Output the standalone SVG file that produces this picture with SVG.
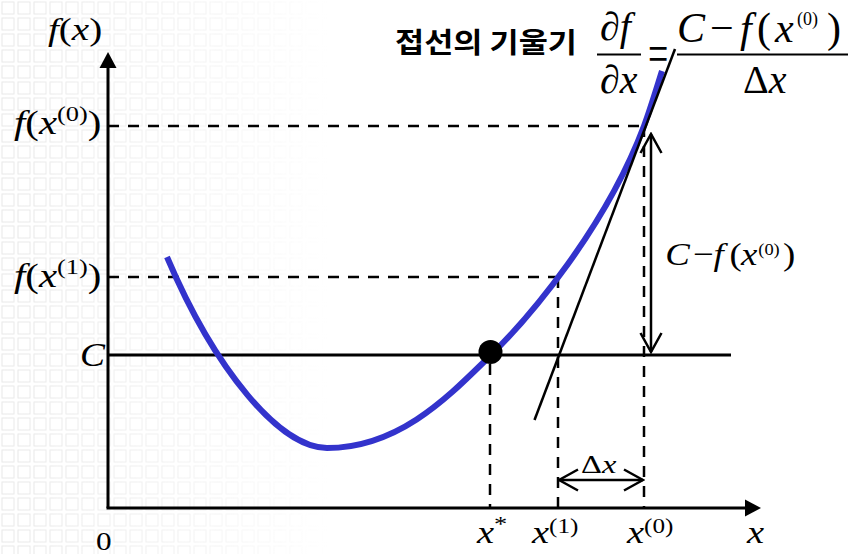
<svg xmlns="http://www.w3.org/2000/svg" width="848" height="554" viewBox="0 0 848 554">
  <style>
    .m { font-family: "Liberation Serif", "Times New Roman", serif; fill: #000; }
    .i { font-style: italic; }
    .ax { stroke: #000; stroke-width: 3; fill: none; }
    .ln { stroke: #000; stroke-width: 2.5; fill: none; }
    .dash { stroke: #000; stroke-width: 2.5; fill: none; stroke-dasharray: 11 9; }
    .bar { stroke: #000; stroke-width: 2; }
    .ko { font-family: "Noto Sans CJK KR", "Noto Sans", sans-serif; font-weight: bold; fill: #000; }
  </style>
  <defs>
    <pattern id="grid" width="16" height="16" patternUnits="userSpaceOnUse">
      <rect x="2" y="2" width="12" height="12" fill="none" stroke="#e2e2e2" stroke-width="1"/>
    </pattern>
    <linearGradient id="fade" x1="0" y1="0" x2="1" y2="0">
      <stop offset="0" stop-color="#fff" stop-opacity="1"/>
      <stop offset="0.6" stop-color="#fff" stop-opacity="0.5"/>
      <stop offset="1" stop-color="#fff" stop-opacity="0"/>
    </linearGradient>
    <mask id="gm">
      <rect x="0" y="0" width="330" height="554" fill="url(#fade)"/>
    </mask>
    <marker id="chev" viewBox="-22 -12 24 24" refX="0" refY="0" markerWidth="24" markerHeight="24" markerUnits="userSpaceOnUse" orient="auto-start-reverse">
      <path d="M -19 -10.5 L 0 0 L -19 10.5" fill="none" stroke="#000" stroke-width="2.5"/>
    </marker>
  </defs>

  <rect width="848" height="554" fill="#fff"/>
  <rect id="background-grid" x="0" y="0" width="330" height="554" fill="url(#grid)" mask="url(#gm)" opacity="0.8"/>

  <g id="axes">
    <line class="ax" x1="108" y1="508" x2="108" y2="64"/>
    <polygon points="108,52 99.5,68 116.5,68" fill="#000"/>
    <line class="ax" x1="106.5" y1="508" x2="748" y2="508"/>
    <polygon points="761,508 745,499.5 745,516.5" fill="#000"/>
  </g>

  <g id="guides">
    <line class="dash" x1="108" y1="126" x2="644" y2="126"/>
    <line class="dash" x1="108" y1="277" x2="558" y2="277"/>
    <line class="dash" x1="490" y1="364" x2="490" y2="508"/>
    <line class="dash" x1="558" y1="277" x2="558" y2="508"/>
    <line class="dash" x1="644" y1="126" x2="644" y2="508"/>
  </g>

  <g id="level-C">
    <line x1="108" y1="355" x2="731" y2="355" stroke="#000" stroke-width="3"/>
  </g>

  <g id="curve">
    <path d="M 167,257 C 215,370 280,448 327,448 C 400,448 450,395 490,356 C 530,317 606,227 644,126 C 650,110 656,90 662,71" fill="none" stroke="#3333cc" stroke-width="6" stroke-linecap="butt"/>
  </g>

  <g id="tangent">
    <line class="ln" x1="534.5" y1="420" x2="675" y2="49"/>
  </g>

  <g id="root-point">
    <circle cx="490.5" cy="352" r="12" fill="#000"/>
  </g>

  <g id="connectors">
    <line class="ln" x1="651" y1="134" x2="651" y2="352" marker-start="url(#chev)" marker-end="url(#chev)"/>
    <line class="ln" x1="559" y1="480" x2="643" y2="480" marker-start="url(#chev)" marker-end="url(#chev)"/>
  </g>

  <g id="axis-labels">
    <text class="m" font-size="32" transform="translate(48,40) scale(1.22,1)"><tspan class="i">f</tspan>(<tspan class="i">x</tspan>)</text>
    <text class="m" font-size="34" transform="translate(14,134) scale(1.2,1)"><tspan class="i">f</tspan>(<tspan class="i">x</tspan><tspan font-size="22" dy="-13">(0)</tspan><tspan dy="13">)</tspan></text>
    <text class="m" font-size="34" transform="translate(14,287) scale(1.2,1)"><tspan class="i">f</tspan>(<tspan class="i">x</tspan><tspan font-size="22" dy="-13">(1)</tspan><tspan dy="13">)</tspan></text>
    <text class="m i" font-size="34" transform="translate(80,366) scale(1.1,1)">C</text>
    <text class="m" font-size="26" transform="translate(96,550) scale(1.2,1)">0</text>
    <text class="m" font-size="32" transform="translate(477,543) scale(1.2,1)"><tspan class="i">x</tspan><tspan font-size="22" dy="-12">*</tspan></text>
    <text class="m" font-size="32" transform="translate(532,543) scale(1.2,1)"><tspan class="i">x</tspan><tspan font-size="21" dy="-10">(1)</tspan></text>
    <text class="m" font-size="32" transform="translate(627,543) scale(1.2,1)"><tspan class="i">x</tspan><tspan font-size="21" dy="-10">(0)</tspan></text>
    <text class="m i" font-size="32" transform="translate(747,543) scale(1.2,1)">x</text>
  </g>

  <g id="dx-label">
    <text class="m" font-size="25" transform="translate(581,473) scale(1.3,1)">Δ<tspan class="i">x</tspan></text>
  </g>

  <g id="gap-label">
    <text class="m" font-size="32" transform="translate(664,265) scale(1.15,1)"><tspan class="i" x="1">C</tspan><tspan x="25">−</tspan><tspan class="i" x="43">f</tspan><tspan x="57">(</tspan><tspan class="i" x="67">x</tspan><tspan font-size="16" x="82" dy="-10">(0)</tspan><tspan x="103.5" dy="10">)</tspan></text>
  </g>

  <g id="slope-formula">
    <text class="ko" x="395" y="53" font-size="28.5" textLength="182" lengthAdjust="spacingAndGlyphs">접선의 기울기</text>
    <text class="m" font-size="40" x="600" y="40">∂<tspan class="i">f</tspan></text>
    <line class="bar" x1="597" y1="54.5" x2="641" y2="54.5"/>
    <text class="m" font-size="40" x="600" y="93">∂<tspan class="i">x</tspan></text>
    <text class="m" font-size="36" transform="translate(648,72) scale(1,1.5)">=</text>
    <text class="m" font-size="42" y="42"><tspan class="i" x="677">C</tspan><tspan x="710">−</tspan><tspan class="i" x="740">f</tspan><tspan x="757">(</tspan><tspan class="i" x="775">x</tspan><tspan font-size="18" x="797" dy="-17">(0)</tspan><tspan x="827" dy="17">)</tspan></text>
    <line class="bar" x1="677" y1="54.5" x2="848" y2="54.5"/>
    <text class="m" font-size="40" x="743" y="93">Δ<tspan class="i">x</tspan></text>
  </g>
</svg>
